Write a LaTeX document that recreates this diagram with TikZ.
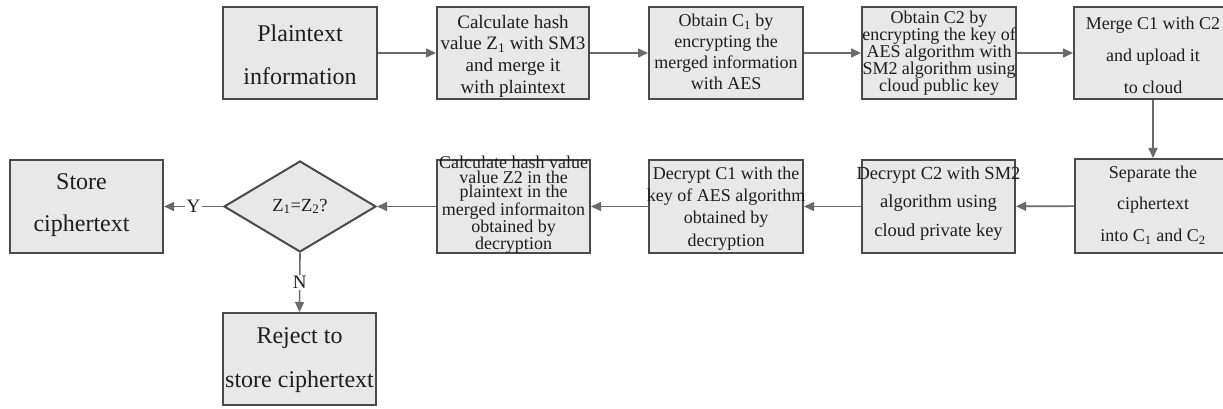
\documentclass[tikz,border=0pt]{standalone}
\usepackage{fontspec}
\setmainfont{Liberation Serif}
\usetikzlibrary{shapes.geometric,arrows.meta}

\definecolor{boxfill}{HTML}{E8E8E8}
\definecolor{boxline}{HTML}{4A4A4A}
\definecolor{linkline}{HTML}{6A6A6A}
\definecolor{inktext}{HTML}{1E1E1E}

\newcommand{\setfs}[2]{\fontsize{#1}{#2}\selectfont}

\tikzset{
  stepbox/.style={draw=boxline, fill=boxfill, line width=2pt,
    minimum width=154pt, minimum height=92pt, inner sep=0pt},
  decision/.style={diamond, draw=boxline, fill=boxfill, line width=2pt,
    minimum width=152pt, minimum height=91pt, inner sep=0pt,
    text=inktext, font=\setfs{18.5}{20}},
  boxtext/.style={align=center, inner sep=0pt, text=inktext},
  link/.style={draw=linkline, line width=1.6pt,
    -{Triangle[length=10pt,width=9pt]}},
  tag/.style={fill=white, inner sep=1.5pt, text=inktext,
    font=\setfs{19}{20}}
}

\begin{document}
\begin{tikzpicture}[x=1pt,y=-1pt]
\clip (0,0) rectangle (1223,409);
\fill[white] (0,0) rectangle (1223,409);

% upper row: encryption and upload
\node[stepbox] (plain) at (300,53) {};
\node[stepbox, minimum width=152pt] (hash1) at (513,53) {};
\node[stepbox] (enc1) at (726,53) {};
\node[stepbox] (enc2) at (939,53) {};
\node[stepbox, minimum width=158pt] (upload) at (1153,53) {};

% lower row: download, decryption and check
\node[stepbox, minimum width=156pt, minimum height=94pt] (split) at (1153,206) {};
\node[stepbox, minimum width=153pt, minimum height=93pt] (dec2) at (938.5,206.5) {};
\node[stepbox, minimum height=93pt] (dec1) at (726,206.5) {};
\node[stepbox, minimum width=153pt, minimum height=93pt] (hash2) at (513.5,206.5) {};
\node[decision] (check) at (300,206.5) {Z\textsubscript{1}=Z\textsubscript{2}?};
\node[stepbox, minimum width=153pt, minimum height=93pt] (store) at (86.5,206.5) {};
\node[stepbox, minimum width=153pt] (reject) at (299.5,359) {};

% box texts (yshift is measured upward)
\node[boxtext, font=\setfs{24}{42.5}] at ([yshift=-2pt]plain.center) {Plaintext\\information};
\node[boxtext, font=\setfs{19}{21.7}] at ([yshift=-3pt]hash1.center)
  {Calculate hash\\value Z\textsubscript{1} with SM3\\and merge it\\with plaintext};
\node[boxtext, font=\setfs{18}{21}] at ([yshift=1pt]enc1.center)
  {Obtain C\textsubscript{1} by\\encrypting the\\merged information\\with AES};
\node[boxtext, font=\setfs{18}{17}] at (enc2.center)
  {Obtain C2 by\\encrypting the key of\\AES algorithm with\\SM2 algorithm using\\cloud public key};
\node[boxtext, font=\setfs{18}{32}] at ([yshift=-2pt]upload.center)
  {Merge C1 with C2\\and upload it\\to cloud};
\node[boxtext, font=\setfs{18}{31.5}] at ([yshift=1pt]split.center)
  {Separate the\\ciphertext\\into C\textsubscript{1} and C\textsubscript{2}};
\node[boxtext, font=\setfs{18.5}{28.5}] at ([yshift=3pt]dec2.center)
  {Decrypt C2 with SM2\\algorithm using\\cloud private key};
\node[boxtext, font=\setfs{18}{22.3}] at ([yshift=-2pt]dec1.center)
  {Decrypt C1 with the\\key of AES algorithm\\obtained by\\decryption};
\node[boxtext, font=\setfs{18}{14.5}] at ([yshift=1.5pt]hash2.center)
  {Calculate hash value\\value Z2 in the\\plaintext in the\\merged informaiton\\obtained by\\decryption};
\node[boxtext, font=\setfs{24}{42}] at ([xshift=-5pt,yshift=1pt]store.center)
  {Store\\ciphertext};
\node[boxtext, font=\setfs{24}{43.5}] at ([yshift=-1pt]reject.center)
  {Reject to\\store ciphertext};

% connectors
\draw[link] (plain) -- (hash1);
\draw[link] (hash1) -- (enc1);
\draw[link] (enc1) -- (enc2);
\draw[link] (enc2) -- (upload);
\draw[link] (upload) -- (split);
\draw[link] (split) -- (dec2);
\draw[link] (dec2) -- (dec1);
\draw[link] (dec1) -- (hash2);
\draw[link] (hash2) -- (check);
\draw[link] (check.west) -- node[tag] {Y} (store.east);
\draw[link] (check.south) -- node[tag] {N} (reject.north);
\end{tikzpicture}
\end{document}
